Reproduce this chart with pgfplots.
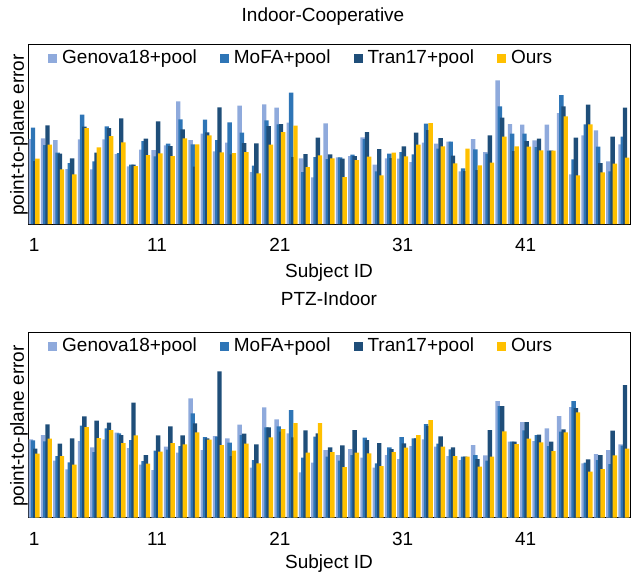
\documentclass[border=0pt]{standalone}
\usepackage{fontspec}
\setmainfont{Liberation Sans}
\usepackage{pgfplots}
\usepackage{pgfplotstable}
\pgfplotsset{compat=1.18}
\definecolor{cG}{HTML}{8FAADC}
\definecolor{cM}{HTML}{2E75B6}
\definecolor{cT}{HTML}{1F4E79}
\definecolor{cO}{HTML}{FFC000}

\pgfplotstableread{
x L M D Y
1 255 289 189 196
2 257 237 296 238
3 252 214 211 164
4 165 183 197 149
5 254 328 292 288
6 164 188 214 230
7 254 293 288 264
8 210 213 317 245
9 173 178 178 174
10 223 249 256 207
11 222 203 308 212
12 236 241 234 204
13 368 314 284 257
14 252 239 172 239
15 271 313 275 266
16 218 252 350 215
17 244 305 209 213
18 355 274 243 216
19 156 175 242 152
20 359 311 294 238
21 349 299 300 276
22 304 394 201 295
23 197 156 210 171
24 140 201 259 206
25 302 195 209 197
26 200 200 196 141
27 204 208 204 192
28 260 255 276 202
29 178 158 225 146
30 197 211 198 214
31 196 216 233 203
32 186 209 274 238
33 244 301 282 303
34 241 226 258 233
35 247 247 205 182
36 158 167 159 226
37 255 224 162 176
38 216 211 266 184
39 431 353 319 262
40 300 271 219 233
41 298 271 249 232
42 251 231 256 221
43 298 220 220 220
44 333 387 353 323
45 149 194 259 146
46 266 299 358 299
47 281 232 183 155
48 188 158 262 181
49 239 262 349 199
}\topdata

\pgfplotstableread{
x L M D Y
1 235 232 207 192
2 248 229 280 237
3 171 185 222 185
4 145 166 238 159
5 230 276 304 272
6 211 197 291 239
7 235 268 285 263
8 255 253 248 224
9 209 233 345 247
10 159 170 188 162
11 143 201 247 198
12 213 204 274 224
13 195 215 247 220
14 358 313 283 256
15 203 242 238 234
16 245 243 439 218
17 238 225 185 201
18 279 248 252 222
19 150 173 220 163
20 331 271 271 241
21 295 274 258 266
22 253 323 241 284
23 136 180 262 195
24 165 243 253 284
25 203 183 211 197
26 188 171 217 152
27 206 188 263 195
28 180 240 233 193
29 150 163 224 155
30 188 211 206 197
31 176 242 223 210
32 215 238 238 248
33 235 281 275 293
34 213 222 244 213
35 185 205 211 185
36 173 183 183 183
37 218 188 176 153
38 187 171 263 183
39 350 335 335 259
40 228 228 228 221
41 287 262 287 237
42 230 248 249 226
43 268 215 228 200
44 305 258 265 256
45 332 350 329 316
46 163 165 175 138
47 191 173 188 146
48 203 161 261 187
49 220 216 398 207
}\botdata

\pgfplotsset{
  myaxis/.style={
    scale only axis, width=602bp,
    xmin=0.5, xmax=49.5, ymin=0,
    xtick={1,11,21,31,41}, ytick=\empty,
    xtick style={draw=none},
    axis line style={line width=0.8bp},
    /pgf/number format/assume math mode=true,
    xticklabel style={yshift=-8bp},
    xlabel={Subject ID},
    ylabel={point-to-plane error},
    ylabel style={at={(axis description cs:0,0.5)}, anchor=south, inner sep=0pt, xshift=-1bp},
    legend columns=4,
    legend style={draw=none, fill=none, inner sep=0pt,
      at={(axis description cs:0,1)}, anchor=west, xshift=20bp, yshift=-14bp,
      nodes={inner xsep=5bp, inner ysep=0pt},
      /tikz/every even column/.append style={column sep=18bp}},
    legend image code/.code={\fill[##1] (0bp,-4.5bp) rectangle (9bp,4.5bp);},
  },
  sG/.style={ybar, bar width=0.36, bar shift=-0.27, fill=cG, draw=none},
  sM/.style={ybar, bar width=0.36, bar shift=-0.09, fill=cM, draw=none},
  sT/.style={ybar, bar width=0.36, bar shift=0.09, fill=cT, draw=none},
  sO/.style={ybar, bar width=0.36, bar shift=0.27, fill=cO, draw=none},
}

\begin{document}
\fontsize{19bp}{22.8bp}\selectfont
\begin{tikzpicture}
\path[use as bounding box] (-28bp,-351bp) rectangle (603bp,224bp);
\begin{axis}[myaxis, height=180bp, ymax=540, title={Indoor-Cooperative},
  title style={at={(axis description cs:0.5,1)}, anchor=center, yshift=21bp, xshift=-6bp},
  xlabel style={at={(axis description cs:0.5,0)}, anchor=center, yshift=-49bp},
  at={(0,0)}, anchor=south west]
\addplot[sG] table[x=x,y=L]{\topdata};
\addplot[sM] table[x=x,y=M]{\topdata};
\addplot[sT] table[x=x,y=D]{\topdata};
\addplot[sO] table[x=x,y=Y]{\topdata};
\legend{Genova18+pool, MoFA+pool, Tran17+pool, Ours}
\end{axis}
\begin{axis}[myaxis, height=185.7bp, ymax=557, title={PTZ-Indoor},
  title style={at={(axis description cs:0.5,1)}, anchor=center, yshift=27bp},
  xlabel style={at={(axis description cs:0.5,0)}, anchor=center, inner sep=0pt, yshift=-46bp},
  at={(0,-293.7bp)}, anchor=south west]
\addplot[sG] table[x=x,y=L]{\botdata};
\addplot[sM] table[x=x,y=M]{\botdata};
\addplot[sT] table[x=x,y=D]{\botdata};
\addplot[sO] table[x=x,y=Y]{\botdata};
\legend{Genova18+pool, MoFA+pool, Tran17+pool, Ours}
\end{axis}
\end{tikzpicture}
\end{document}
